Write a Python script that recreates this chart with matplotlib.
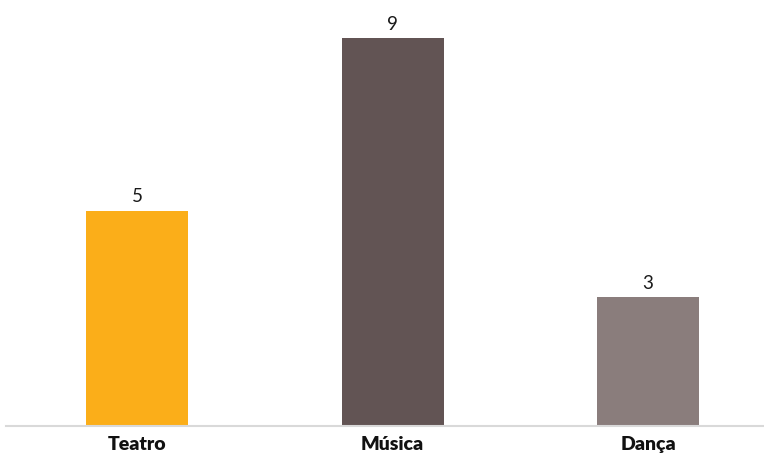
import matplotlib.pyplot as plt

categories = ['Teatro', 'Música', 'Dança']
values = [5, 9, 3]
colors = ['#FBAE19', '#625454', '#8A7D7C']

plt.rcParams['font.family'] = ['Lato', 'DejaVu Sans']

fig = plt.figure(figsize=(7.64, 4.57), dpi=100)
ax = fig.add_axes([0.008, 0.067, 0.992, 0.933])

x = range(len(categories))
bars = ax.bar(x, values, width=0.4, color=colors)

# value labels above each bar
for bar, v in zip(bars, values):
    ax.text(bar.get_x() + bar.get_width() / 2, v + 0.12, str(v),
            ha='center', va='bottom', fontsize=13.5, color='#1a1a1a')

ax.set_xlim(-0.513, 2.454)
ax.set_ylim(0, 9.88)
ax.set_xticks(list(x))
ax.set_xticklabels(categories, fontsize=14, fontweight='heavy', color='#111111')
ax.tick_params(axis='x', length=0, pad=7)
ax.set_yticks([])

for side in ['top', 'right', 'left']:
    ax.spines[side].set_visible(False)
ax.spines['bottom'].set_color('#D9D9D9')
ax.spines['bottom'].set_linewidth(1.5)

fig.savefig('out.png', dpi=100)
